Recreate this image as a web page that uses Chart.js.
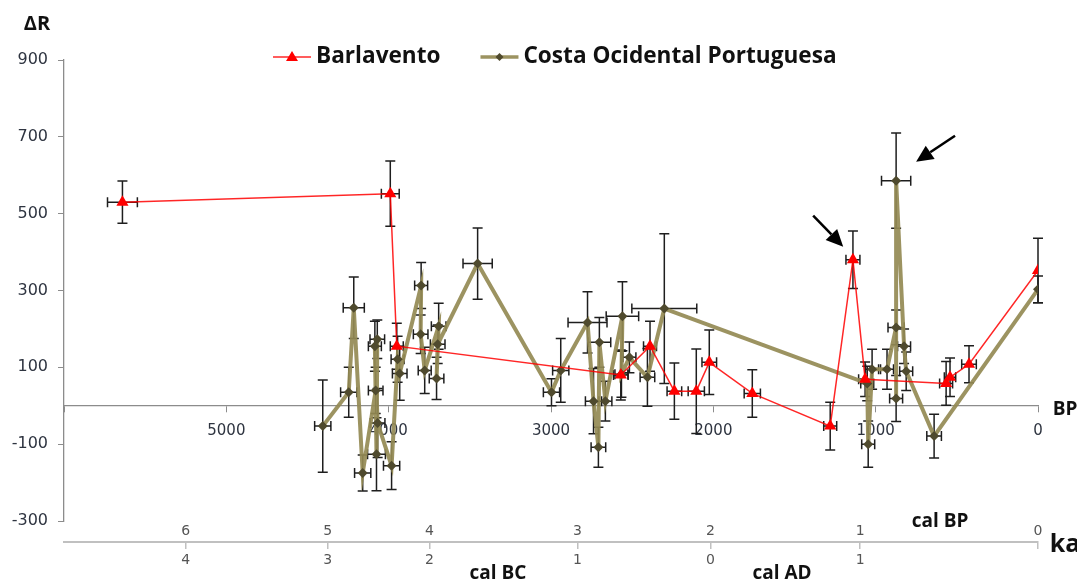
<!DOCTYPE html>
<html lang="en">
<head>
<meta charset="UTF-8">
<title>Delta R</title>
<script src="https://cdn.jsdelivr.net/npm/chart.js@4.4.1/dist/chart.umd.min.js"></script>
<style>
  html, body { margin: 0; padding: 0; background: #fff; }
</style>
</head>
<body>
<canvas id="chart" width="1077" height="583"></canvas>

<script>
const seriesNames = ['Barlavento', 'Costa Ocidental Portuguesa'];

// Barlavento: radiocarbon age (BP), delta R, and the error on each
const barlBP  = [5640, 3990, 3950, 2570, 2390, 2240, 2105, 2025, 1760, 1280, 1140, 1065, 566, 542, 425, 0];
const barlDR  = [530, 552, 155, 80, 155, 38, 38, 113, 32, -53, 380, 69, 58, 74, 108, 352];
const barlEBP = [92, 55, 40, 45, 40, 45, 50, 45, 50, 40, 43, 40, 40, 35, 45, 0];
const barlEDR = [55, 85, 60, 65, 65, 73, 110, 84, 62, 62, 75, 45, 57, 50, 48, 84];

// Costa Ocidental Portuguesa, in the order the line joins them
const costaBP  = [4406, 4246, 4215, 4160, 4080, 4070, 4075, 4085, 4068, 3982, 3945, 3932, 3800, 3803, 3778, 3692, 3705, 3698, 3452,
                  2997, 2940, 2775, 2738, 2708, 2702, 2665, 2560, 2566, 2517, 2406, 2302,
                  1052, 1046, 1022, 930, 874, 874, 874, 825, 812, 640, 0];
const costaDR  = [-53, 35, 255, -175, 40, 173, -126, 155, -45, -156, 121, 84, 313, 186, 92, 207, 71, 160, 370,
                  35, 92, 217, 12, -108, 165, 12, 233, 82, 126, 74, 253,
                  58, -100, 95, 95, 204, 19, 586, 155, 90, -79, 303];
const costaEBP = [50, 50, 65, 50, 45, 45, 55, 40, 45, 50, 40, 45, 40, 45, 40, 45, 45, 45, 90,
                  50, 50, 120, 50, 45, 70, 40, 100, 40, 40, 45, 200,
                  40, 40, 40, 40, 50, 40, 90, 40, 40, 45, 0];
const costaEDR = [120, 65, 80, 47, 60, 50, 95, 65, 90, 62, 60, 70, 60, 50, 60, 60, 55, 50, 93,
                  35, 83, 80, 85, 52, 65, 52, 90, 60, 40, 75, 195,
                  45, 60, 52, 52, 45, 60, 124, 45, 50, 57, 35];

// calibrated-age scale under the plot: tick positions (BP) and labels
const calTickBP    = [5250, 4375, 3748, 2837, 2018, 1095, 0];
const calBPLabels  = ['6', '5', '4', '3', '2', '1', '0'];
const calBCADLabels = ['4', '3', '2', '1', '0', '1', ''];

// annotation arrows (BP, delta R): tail -> head
const arrows = [
  [[1385, 495], [1200, 414]],
  [[511, 703], [751, 635]]
];

const toPoints = (xs, ys) => xs.map((v, i) => ({ x: v, y: ys[i] }));

const errorSets = [
  { bp: barlBP, dr: barlDR, eBP: barlEBP, eDR: barlEDR },
  { bp: costaBP, dr: costaDR, eBP: costaEBP, eDR: costaEDR }
];

const errorBars = {
  id: 'errorBars',
  beforeDatasetsDraw(chart) {
    const { ctx } = chart;
    const x = chart.scales.x, y = chart.scales.y;
    const cap = 5;
    ctx.save();
    ctx.strokeStyle = '#1e1e1e';
    ctx.lineWidth = 1.5;
    errorSets.forEach(s => {
      s.bp.forEach((bp, i) => {
        const px = x.getPixelForValue(bp);
        const py = y.getPixelForValue(s.dr[i]);
        ctx.beginPath();
        if (s.eDR[i] > 0) {
          const y1 = y.getPixelForValue(s.dr[i] + s.eDR[i]);
          const y2 = y.getPixelForValue(s.dr[i] - s.eDR[i]);
          ctx.moveTo(px, y1); ctx.lineTo(px, y2);
          ctx.moveTo(px - cap, y1); ctx.lineTo(px + cap, y1);
          ctx.moveTo(px - cap, y2); ctx.lineTo(px + cap, y2);
        }
        if (s.eBP[i] > 0) {
          const x1 = x.getPixelForValue(bp + s.eBP[i]);
          const x2 = x.getPixelForValue(bp - s.eBP[i]);
          ctx.moveTo(x1, py); ctx.lineTo(x2, py);
          ctx.moveTo(x1, py - cap); ctx.lineTo(x1, py + cap);
          ctx.moveTo(x2, py - cap); ctx.lineTo(x2, py + cap);
        }
        ctx.stroke();
      });
    });
    ctx.restore();
  }
};

const boldFont = size => 'bold ' + size + 'px "Open Sans", sans-serif';

const extras = {
  id: 'extras',
  afterDraw(chart) {
    const { ctx, chartArea } = chart;
    const x = chart.scales.x, y = chart.scales.y;
    ctx.save();

    // axis names
    ctx.fillStyle = '#111';
    ctx.textBaseline = 'middle';
    ctx.textAlign = 'center';
    ctx.font = boldFont(20);
    ctx.fillText('ΔR', 37, 24);
    ctx.font = boldFont(19);
    ctx.fillText('BP', chartArea.right + 27, y.getPixelForValue(0) + 4);
    ctx.fillText('cal BP', 940, 522);
    ctx.fillText('cal BC', 498, 574);
    ctx.fillText('cal AD', 782, 574);
    ctx.font = boldFont(25);
    ctx.fillText('ka', chartArea.right + 27, 545);

    // arrows
    ctx.strokeStyle = '#000';
    ctx.fillStyle = '#000';
    ctx.lineWidth = 2.5;
    arrows.forEach(([t, h]) => {
      const x0 = x.getPixelForValue(t[0]), y0 = y.getPixelForValue(t[1]);
      const x1 = x.getPixelForValue(h[0]), y1 = y.getPixelForValue(h[1]);
      const a = Math.atan2(y1 - y0, x1 - x0);
      const len = 17, half = 8;
      const bx = x1 - len * Math.cos(a), by = y1 - len * Math.sin(a);
      ctx.beginPath();
      ctx.moveTo(x0, y0); ctx.lineTo(bx, by);
      ctx.stroke();
      ctx.beginPath();
      ctx.moveTo(x1, y1);
      ctx.lineTo(bx + half * Math.sin(a), by - half * Math.cos(a));
      ctx.lineTo(bx - half * Math.sin(a), by + half * Math.cos(a));
      ctx.closePath();
      ctx.fill();
    });

    // legend
    const ly = 57;
    ctx.font = boldFont(22.6);
    ctx.textAlign = 'left';
    let lx = 273;
    chart.data.datasets.forEach((ds, i) => {
      const lineW = 38;
      ctx.strokeStyle = ds.borderColor;
      ctx.lineWidth = i === 0 ? 1.5 : 3.5;
      ctx.beginPath();
      ctx.moveTo(lx, ly); ctx.lineTo(lx + lineW, ly);
      ctx.stroke();
      ctx.fillStyle = ds.pointBackgroundColor;
      const cx = lx + lineW / 2;
      ctx.beginPath();
      if (i === 0) {
        ctx.moveTo(cx, ly - 6); ctx.lineTo(cx + 6, ly + 4); ctx.lineTo(cx - 6, ly + 4);
      } else {
        ctx.moveTo(cx, ly - 4); ctx.lineTo(cx + 4, ly); ctx.lineTo(cx, ly + 4); ctx.lineTo(cx - 4, ly);
      }
      ctx.closePath();
      ctx.fill();
      ctx.fillStyle = '#111';
      const tx = lx + lineW + 5;
      ctx.fillText(ds.label, tx, ly);
      lx = tx + ctx.measureText(ds.label).width + 40;
    });

    ctx.restore();
  }
};

const tickFont = { family: 'DejaVu Sans', size: 15 };
const axisGrey = '#8c8c8c';

new Chart(document.getElementById('chart'), {
  type: 'scatter',
  data: {
    datasets: [
      {
        label: seriesNames[0],
        data: toPoints(barlBP, barlDR),
        xAxisID: 'x', yAxisID: 'y',
        showLine: true,
        borderColor: 'rgba(255,0,0,0.85)',
        borderWidth: 1.5,
        pointStyle: 'triangle',
        pointRadius: 7,
        pointBackgroundColor: '#ff0000',
        pointBorderColor: '#ff0000',
        pointBorderWidth: 0
      },
      {
        label: seriesNames[1],
        data: toPoints(costaBP, costaDR),
        xAxisID: 'x', yAxisID: 'y',
        showLine: true,
        borderColor: 'rgba(148,138,84,0.92)',
        borderWidth: 4,
        pointStyle: 'rectRot',
        pointRadius: 5,
        pointBackgroundColor: '#4f4a2e',
        pointBorderColor: '#4f4a2e',
        pointBorderWidth: 0
      }
    ]
  },
  options: {
    responsive: false,
    animation: false,
    layout: { padding: { left: 0, right: 39, top: 60, bottom: 62 } },
    plugins: { legend: { display: false }, tooltip: { enabled: false } },
    scales: {
      x: {
        type: 'linear', min: 0, max: 6000, reverse: true,
        position: { y: 0 },
        ticks: {
          stepSize: 1000, padding: 10, color: '#2e3440', font: tickFont,
          maxRotation: 0, autoSkip: false,
          callback: v => (v === 6000 ? '' : String(v))
        },
        grid: { drawOnChartArea: false, tickLength: 6, color: axisGrey },
        border: { color: axisGrey, width: 1.3 }
      },
      y: {
        type: 'linear', min: -300, max: 900,
        ticks: { stepSize: 200, padding: 10, color: '#2e3440', font: { family: 'DejaVu Sans', size: 16 } },
        grid: { drawOnChartArea: false, tickLength: 6, color: axisGrey },
        border: { color: axisGrey, width: 1.3 },
        afterFit: s => { s.width = 64; }
      },
      calBP: {
        type: 'linear', axis: 'x', min: 0, max: 6000, reverse: true,
        position: { y: -300 },
        afterBuildTicks: s => { s.ticks = calTickBP.map(v => ({ value: v })); },
        ticks: {
          autoSkip: false, maxRotation: 0, padding: 2, color: '#555',
          font: { family: 'DejaVu Sans', size: 14 },
          callback: (v, i) => calBPLabels[i]
        },
        grid: { display: false, drawTicks: false },
        border: { display: false }
      },
      calBCAD: {
        type: 'linear', axis: 'x', min: 0, max: 6000, reverse: true,
        position: { y: -354.5 },
        afterBuildTicks: s => { s.ticks = calTickBP.map(v => ({ value: v })); },
        ticks: {
          autoSkip: false, maxRotation: 0, padding: 4, color: '#555',
          font: { family: 'DejaVu Sans', size: 14 },
          callback: (v, i) => calBCADLabels[i]
        },
        grid: { drawOnChartArea: false, drawTicks: true, tickLength: 6, color: '#c0c0c0', lineWidth: 1.5 },
        border: { color: '#c0c0c0', width: 2 }
      }
    }
  },
  plugins: [errorBars, extras]
});
</script>
</body>
</html>
